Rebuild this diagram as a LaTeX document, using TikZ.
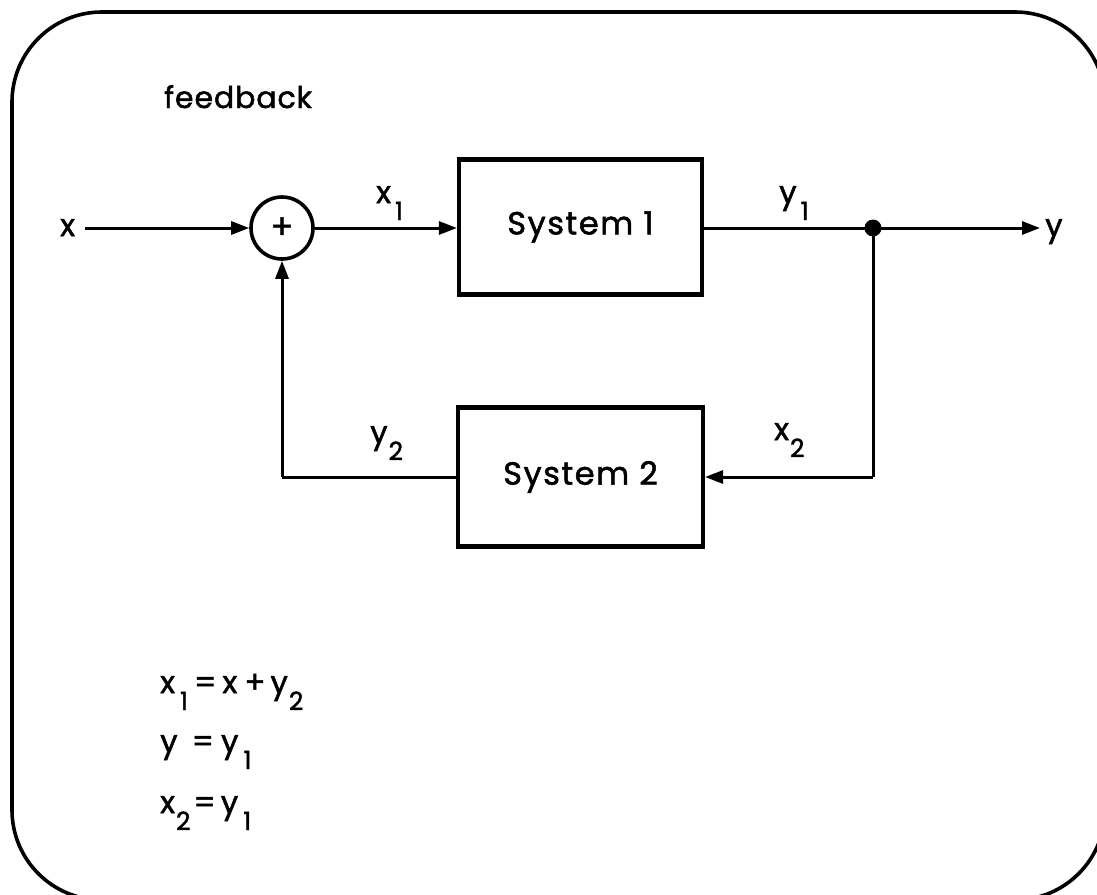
\documentclass[tikz,border=0pt]{standalone}
\usepackage{fontspec}
\setmainfont{Poppins}[FakeBold=1.6]
\usetikzlibrary{arrows.meta}
\newcommand\lowsub[1]{\raisebox{-17pt}{\fontsize{25}{30}\selectfont #1}}
\tikzset{
  wire/.style={line width=3pt},
  arr/.style={wire,-{Triangle[length=18pt,width=13pt]}},
  sysbox/.style={draw,line width=4.2pt,rectangle,minimum width=243pt,minimum height=135pt,inner sep=0pt,font=\fontsize{32}{36}\selectfont\addfontfeatures{LetterSpace=5}},
  sumnode/.style={draw,circle,line width=3.6pt,minimum size=62pt,inner sep=0pt,font=\fontsize{34}{36}\selectfont},
  lbl/.style={inner sep=0pt,font=\fontsize{31}{36}\selectfont},
}
\begin{document}
\begin{tikzpicture}[x=1pt,y=-1pt]
\useasboundingbox (0,0) rectangle (1097,894);
\clip (0,0) rectangle (1097,894);
\draw[line width=3.6pt,rounded corners=90pt] (12,12) rectangle (1105,900);

\node[lbl,anchor=base west,font=\fontsize{30}{36}\selectfont\addfontfeatures{LetterSpace=3}] (title) at (164,108) {feedback};

\node[sumnode] (sum) at (282,228) {+};
\node[sysbox] (s1) at (580.5,227) {System 1};
\node[sysbox,minimum width=245pt,minimum height=139pt] (s2) at (580.5,477) {System 2};

\node[lbl,anchor=base west] (xin) at (60,236) {x};
\coordinate (xs) at (85,228);
\fill (873,228) circle (8.5pt);
\coordinate (jn) at (873,228);
\coordinate (yend) at (1040,228);
\node[lbl,anchor=base west] (yout) at (1045,236) {y};
\coordinate (c1) at (873,477);
\coordinate (c2) at (282,477);

\draw[arr] (xs) -- (sum.west);
\draw[arr] (sum.east) -- (s1.west |- sum.east);
\draw[wire] (s1.east |- jn) -- (jn);
\draw[arr] (jn) -- (yend);
\draw[wire] (jn) -- (c1);
\draw[arr] (c1) -- (s2.east);
\draw[wire] (s2.west) -- (c2);
\draw[arr] (c2) -- (sum.south);

\node[lbl,anchor=base west] (lx1) at (376,203) {x\kern4pt\lowsub{1}};
\node[lbl,anchor=base west] (ly1) at (779,203) {y\kern4pt\lowsub{1}};
\node[lbl,anchor=base west] (ly2) at (370,443) {y\kern1pt\lowsub{2}};
\node[lbl,anchor=base west] (lx2) at (774,440) {x\kern1pt\lowsub{2}};

\node[lbl,anchor=base west] (e1) at (160,693) {x\kern5pt\lowsub{1}\kern6pt=\kern6pt x\kern7pt+\kern5pt y\kern1pt\lowsub{2}};
\node[lbl,anchor=base west] (e2) at (160,752) {y\kern14pt=\kern7pt y\kern5pt\lowsub{1}};
\node[lbl,anchor=base west] (e3) at (160,813) {x\kern1pt\lowsub{2}\kern3pt=\kern5pt y\kern5pt\lowsub{1}};
\end{tikzpicture}
\end{document}
